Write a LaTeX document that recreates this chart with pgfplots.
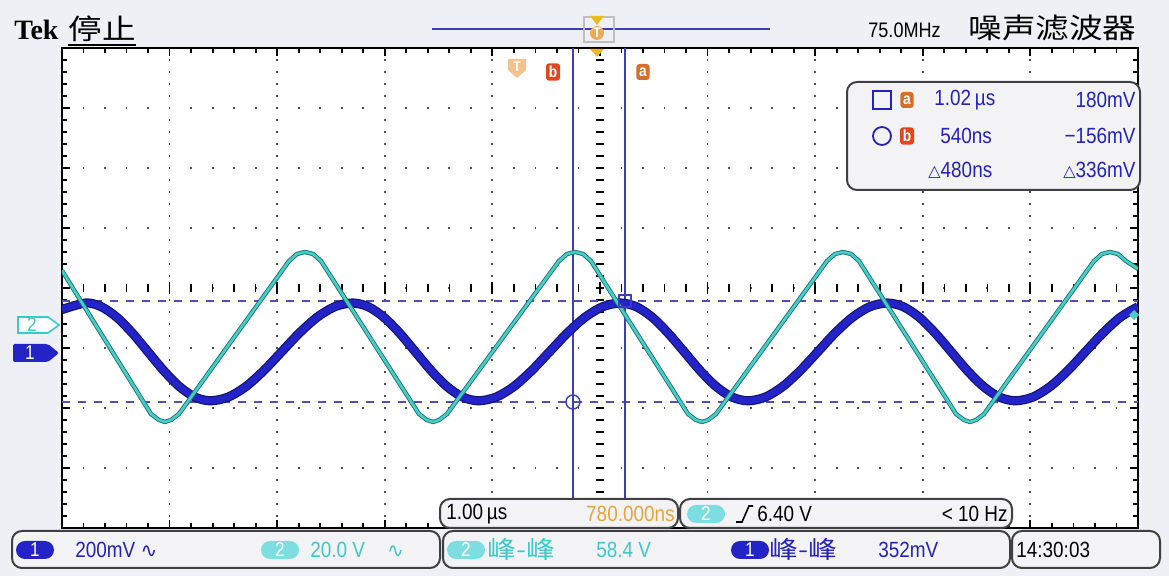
\documentclass[border=0pt]{standalone}
\usepackage{pgfplots}
\pgfplotsset{compat=1.18}
\usetikzlibrary{calc}
\usepackage{graphicx}
\usepackage{fontspec}
\setmainfont{Liberation Sans}[FakeStretch=0.86]
\newfontfamily\serifb{Liberation Serif}
\newfontfamily\cjk{Noto Sans CJK SC}
\newfontfamily\sym{DejaVu Sans}

\definecolor{bgc}{RGB}{238,240,245}
\definecolor{boxc}{RGB}{243,243,245}
\definecolor{ch1c}{RGB}{35,35,200}
\definecolor{ch1e}{RGB}{20,20,110}
\definecolor{ch2c}{RGB}{70,205,200}
\definecolor{ch2e}{RGB}{30,115,115}
\definecolor{ch2l}{RGB}{125,222,226}
\definecolor{txtb}{RGB}{35,35,185}
\definecolor{txtc}{RGB}{60,200,200}
\definecolor{curc}{RGB}{60,60,190}
\definecolor{dashc}{RGB}{85,75,185}
\definecolor{trigy}{RGB}{232,190,30}
\definecolor{trigo}{RGB}{236,170,90}
\definecolor{cura}{RGB}{215,110,40}
\definecolor{curb}{RGB}{225,70,30}
\definecolor{orgt}{RGB}{230,165,60}

\newcommand\rd{\fontsize{11}{11}\selectfont}
\newcommand\cn[1]{\scalebox{1.2}[1]{\cjk\fontsize{12}{12}\selectfont #1}}
\newcommand\dlt{\raisebox{0.5pt}{\sym\fontsize{8}{8}\selectfont △}}

% channel 1, 200 mV/div (x and y in divisions)
\pgfplotstableread{
x y
-5.000 -0.359
-4.780 -0.250
-4.635 -0.312
-4.490 -0.489
-4.345 -0.753
-4.200 -1.065
-4.055 -1.377
-3.910 -1.641
-3.765 -1.818
-3.620 -1.880
-3.455 -1.818
-3.290 -1.641
-3.125 -1.377
-2.960 -1.065
-2.795 -0.753
-2.630 -0.489
-2.465 -0.312
-2.300 -0.250
-2.154 -0.312
-2.008 -0.489
-1.861 -0.753
-1.715 -1.065
-1.569 -1.377
-1.423 -1.641
-1.276 -1.818
-1.130 -1.880
-0.965 -1.818
-0.800 -1.641
-0.635 -1.377
-0.470 -1.065
-0.305 -0.753
-0.140 -0.489
0.025 -0.312
0.190 -0.250
0.338 -0.312
0.486 -0.489
0.634 -0.753
0.783 -1.065
0.931 -1.377
1.079 -1.641
1.227 -1.818
1.375 -1.880
1.537 -1.818
1.699 -1.641
1.861 -1.377
2.023 -1.065
2.184 -0.753
2.346 -0.489
2.508 -0.312
2.670 -0.250
2.819 -0.312
2.968 -0.489
3.116 -0.753
3.265 -1.065
3.414 -1.377
3.563 -1.641
3.711 -1.818
3.860 -1.880
4.023 -1.818
4.185 -1.641
4.348 -1.377
4.510 -1.065
4.673 -0.753
4.835 -0.489
5.000 -0.312
}\chone

% channel 2, 20 V/div
\pgfplotstableread{
x y
-5.000 0.290
-4.173 -2.100
-4.099 -2.200
-4.043 -2.233
-3.987 -2.200
-3.913 -2.100
-2.890 0.450
-2.816 0.567
-2.742 0.600
-2.667 0.567
-2.593 0.450
-1.682 -2.100
-1.608 -2.200
-1.552 -2.233
-1.496 -2.200
-1.422 -2.100
-0.381 0.450
-0.307 0.567
-0.232 0.600
-0.158 0.567
-0.084 0.450
0.818 -2.100
0.892 -2.200
0.948 -2.233
1.004 -2.200
1.078 -2.100
2.110 0.450
2.184 0.567
2.258 0.600
2.333 0.567
2.407 0.450
3.309 -2.100
3.383 -2.200
3.439 -2.233
3.494 -2.200
3.569 -2.100
4.591 0.450
4.665 0.567
4.740 0.600
4.814 0.567
4.888 0.450
5.000 0.320
}\chtwo

\begin{document}
\begin{tikzpicture}
\fill[bgc] (0,0) rectangle (584.5pt,-288pt);
\begin{axis}[
  at={(31pt,-264pt)}, anchor=south west,
  width=538pt, height=240pt, scale only axis,
  xmin=-5, xmax=5, ymin=-4, ymax=4,
  axis background/.style={fill=white},
  axis line style={line width=1.1pt, black},
  xtick={-5,...,5}, ytick={-4,...,4},
  minor x tick num=4, minor y tick num=4,
  xticklabels={}, yticklabels={},
  tick label style={text opacity=0},
  tick align=inside,
  major tick length=4pt, minor tick length=2.5pt,
  every tick/.style={black, line width=0.9pt},
  grid=major,
  x grid style={black!70, line width=0.9pt, dash pattern=on 0.9pt off 5.1pt, dash phase=0.45pt},
  y grid style={black!70, line width=0.9pt, dash pattern=on 0.9pt off 9.86pt, dash phase=0.45pt},
]
% centre cross with its small marks
\pgfplotsinvokeforeach{0,...,50}{
  \draw[black, line width=0.8pt] (axis cs:{-5+0.2*#1},-0.06) -- (axis cs:{-5+0.2*#1},0.06);
}
\pgfplotsinvokeforeach{-4,...,4}{
  \draw[black, line width=0.9pt] (axis cs:{#1},-0.1) -- (axis cs:{#1},0.1);
}
\pgfplotsinvokeforeach{0,...,40}{
  \draw[black, line width=0.9pt] (axis cs:-0.035,{-4+0.2*#1}) -- (axis cs:0.035,{-4+0.2*#1});
}
% cursors
\draw[dashc, line width=0.9pt, dash pattern=on 4pt off 4pt] (axis cs:-5,-0.217) -- (axis cs:5,-0.217);
\draw[dashc, line width=0.9pt, dash pattern=on 4pt off 4pt] (axis cs:-5,-1.900) -- (axis cs:5,-1.900);
\draw[curc, line width=0.8pt] (axis cs:-0.251,4) -- (axis cs:-0.251,-4);
\draw[curc, line width=0.8pt] (axis cs:0.232,4) -- (axis cs:0.232,-4);

\addplot[ch1e, line width=4.6pt, smooth, line join=round] table {\chone};
\addplot[ch1c, line width=3.4pt, smooth, line join=round] table {\chone};
\addplot[ch2e, line width=2.2pt, line join=round] table {\chtwo};
\addplot[ch2c, line width=1.3pt, line join=round] table {\chtwo};

\draw[curc, line width=0.7pt] (axis cs:-0.251,-1.9) circle (3.5pt);
\draw[curc, line width=0.7pt] (axis cs:-0.251,-1.9) ++(-5pt,0) -- ++(10pt,0);
\draw[curc, line width=0.7pt] ($(axis cs:0.232,-0.217)+(-3pt,-3pt)$) rectangle ++(6pt,6pt);
\end{axis}

\begin{scope}[x=0.5pt, y=-0.5pt]
\tikzset{mk/.style={rounded corners=1.5pt, text=white, inner sep=1.4pt, minimum width=6.5pt, minimum height=8pt, font=\fontsize{8}{8}\selectfont\bfseries}}
% header
\node[anchor=west, inner sep=0] at (14,30) {\serifb\bfseries\fontsize{14}{14}\selectfont Tek};
\node[anchor=west, inner sep=0] at (68,29) {\scalebox{1.2}[1]{\cjk\fontsize{14}{14}\selectfont 停止}};
\draw[line width=1pt] (68,45) -- (136,45);
\draw[curc, line width=1.2pt] (432,29) -- (770,29);
\draw[black!25, line width=0.6pt] (584,17) rectangle (614,42);
\fill[trigo] (597,33) circle (7);
\node[text=white, inner sep=0, font=\fontsize{7}{7}\selectfont\bfseries] at (597,33) {T};
\fill[trigy] (590,16) -- (604,16) -- (597,25) -- cycle;
\fill[trigy] (590,49) -- (604,49) -- (597,57) -- cycle;
\node[anchor=west, inner sep=0] at (868,30) {\fontsize{10.5}{10.5}\selectfont 75.0MHz};
\node[anchor=west, inner sep=0] at (968,28) {\scalebox{1.2}[1]{\cjk\fontsize{14}{14}\selectfont 噪声滤波器}};

% markers along the top of the graticule
\fill[trigo!70] (508,59) -- (526,59) -- (526,70) -- (517,78) -- (508,70) -- cycle;
\node[text=white, inner sep=0, font=\fontsize{7}{7}\selectfont\bfseries] at (517,67) {T};
\node[mk, fill=curb] at (553,72) {b};
\node[mk, fill=cura] at (643,72) {a};

% channel ground markers
\draw[txtc, line width=0.8pt, fill=white] (18,317) -- (48,317) -- (59,325) -- (48,333) -- (18,333) -- cycle;
\node[text=txtc, inner sep=0, font=\fontsize{10}{10}\selectfont] at (32,325) {2};
\fill[ch1c, rounded corners=1pt] (13,344) -- (48,344) -- (59,353) -- (48,362) -- (13,362) -- cycle;
\node[text=white, inner sep=0, font=\fontsize{10}{10}\selectfont] at (30,353) {1};
\fill[ch2c] (1134,310) -- (1139,315) -- (1134,320) -- (1129,315) -- cycle;

% cursor readout
\draw[black!75, line width=1pt, fill=boxc, rounded corners=5] (847,82) rectangle (1140,190);
\draw[txtb, line width=0.9pt] (873,91) rectangle (891,109);
\node[mk, fill=cura] at (907,100) {a};
\node[anchor=west, text=txtb, inner sep=0] at (934,100) {\rd 1.02\,µs};
\node[anchor=east, text=txtb, inner sep=0] at (1136,100) {\rd 180mV};
\draw[txtb, line width=0.9pt] (882,136) circle (9);
\node[mk, fill=curb] at (907,136) {b};
\node[anchor=west, text=txtb, inner sep=0] at (940,136) {\rd 540ns};
\node[anchor=east, text=txtb, inner sep=0] at (1136,136) {\rd −156mV};
\node[anchor=west, text=txtb, inner sep=0] at (928,170) {\dlt\rd 480ns};
\node[anchor=east, text=txtb, inner sep=0] at (1136,170) {\dlt\rd 336mV};

% lower readouts
\tikzset{panel/.style={black!75, line width=1pt, fill=boxc, rounded corners=5},
  badge/.style={rounded corners=4.5pt, minimum width=19pt, minimum height=9pt, inner sep=0, text=white, font=\fontsize{10}{10}\selectfont}}
\draw[panel] (440,499) rectangle (678,528);
\node[anchor=west, inner sep=0] at (446,514) {\rd 1.00\,µs};
\node[anchor=east, inner sep=0, text=orgt] at (675,514) {\rd 780.000ns};
\draw[panel] (680,499) rectangle (1012,528);
\node[badge, fill=ch2l] at (706,514) {2};
\draw[black, line width=0.8pt] (736,522) -- (742,522) -- (749,506) -- (753,506);
\node[anchor=west, inner sep=0] at (757,514) {\rd 6.40 V};
\node[anchor=east, inner sep=0] at (1008,514) {\rd < 10 Hz};

\draw[panel] (12,531) rectangle (440,568);
\node[badge, fill=ch1c] at (35,550) {1};
\node[anchor=west, inner sep=0, text=txtb] at (75,550) {\rd 200mV {\sym\fontsize{10}{10}\selectfont ∿}};
\node[badge, fill=ch2l] at (280,550) {2};
\node[anchor=west, inner sep=0, text=txtc] at (310,550) {\rd 20.0 V\quad{\sym\fontsize{10}{10}\selectfont ∿}};
\draw[panel] (443,531) rectangle (1010,568);
\node[badge, fill=ch2l] at (466,550) {2};
\node[anchor=west, inner sep=0, text=txtc] at (487,549) {\cn{峰-峰}};
\node[anchor=west, inner sep=0, text=txtc] at (596,550) {\rd 58.4 V};
\node[badge, fill=ch1c] at (750,550) {1};
\node[anchor=west, inner sep=0, text=txtb] at (769,549) {\cn{峰-峰}};
\node[anchor=west, inner sep=0, text=txtb] at (878,550) {\rd 352mV};
\draw[panel] (1012,531) rectangle (1160,568);
\node[anchor=west, inner sep=0] at (1016,550) {\rd 14:30:03};
\end{scope}
\pgfresetboundingbox
\path[use as bounding box] (0,0) rectangle (584.5pt,-288pt);
\end{tikzpicture}
\end{document}
